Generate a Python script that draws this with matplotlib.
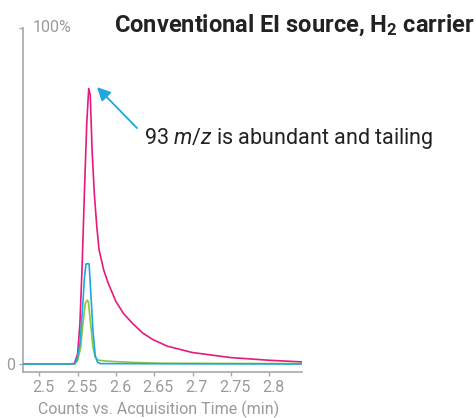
import matplotlib
matplotlib.use("Agg")
import matplotlib.pyplot as plt
import matplotlib.transforms as mtransforms
import numpy as np

plt.rcParams['font.family'] = ['Roboto', 'DejaVu Sans']
plt.rcParams['mathtext.fontset'] = 'custom'
plt.rcParams['mathtext.rm'] = 'Roboto'
plt.rcParams['mathtext.it'] = 'Roboto:italic'
plt.rcParams['mathtext.bf'] = 'Roboto:bold'

# ---- data (fraction of 100%) ----
t_pink = [2.478, 2.540, 2.546, 2.550, 2.553, 2.556, 2.559, 2.562, 2.5645, 2.5665,
          2.569, 2.572, 2.575, 2.578, 2.584, 2.590, 2.600, 2.610, 2.622,
          2.635, 2.648, 2.667, 2.700, 2.750, 2.800, 2.844]
v_pink = [0.0, 0.0, 0.002, 0.03, 0.12, 0.30, 0.52, 0.72, 0.82, 0.80,
          0.63, 0.50, 0.41, 0.34, 0.28, 0.24, 0.186, 0.15, 0.12,
          0.092, 0.073, 0.053, 0.034, 0.019, 0.011, 0.006]

t_green = [2.478, 2.546, 2.550, 2.554, 2.557, 2.560, 2.5625, 2.564, 2.567, 2.570,
           2.573, 2.576, 2.585, 2.600, 2.630, 2.660, 2.844]
v_green = [0.0, 0.0, 0.01, 0.05, 0.12, 0.18, 0.19, 0.185, 0.12, 0.05,
           0.02, 0.012, 0.009, 0.007, 0.004, 0.002, 0.001]

t_blue = [2.478, 2.546, 2.549, 2.553, 2.556, 2.559, 2.561, 2.565, 2.567, 2.570,
          2.573, 2.576, 2.580, 2.844]
v_blue = [0.0, 0.0, 0.01, 0.06, 0.15, 0.26, 0.298, 0.298, 0.22, 0.10,
          0.025, 0.005, 0.001, 0.0]

x_ticks = [2.5, 2.55, 2.6, 2.65, 2.7, 2.75, 2.8]
x_tick_labels = ["2.5", "2.55", "2.6", "2.65", "2.7", "2.75", "2.8"]

PINK = "#e6197f"
BLUE = "#1ea7e1"
GREEN = "#8dc63f"
GRAY = "#9a9a9a"
AXC = "#a8a8a8"

fig = plt.figure(figsize=(4.77, 4.18), dpi=100)
ax = fig.add_axes([23/477, 1-371.7/418, (302.3-23)/477, (371.7-28)/418])

ax.plot(t_pink, v_pink, color=PINK, lw=1.2, zorder=3)
ax.plot(t_green, v_green, color=GREEN, lw=1.2, zorder=4)
ax.plot(t_blue, v_blue, color=BLUE, lw=1.2, zorder=5)

ax.set_xlim(2.4787, 2.8433)
ax.set_ylim(-0.023, 1.0)

for s in ['top', 'right']:
    ax.spines[s].set_visible(False)
for s in ['left', 'bottom']:
    ax.spines[s].set_color(AXC)
    ax.spines[s].set_linewidth(1.2)

ax.set_xticks(x_ticks)
ax.set_xticklabels(x_tick_labels)
ax.set_yticks([0, 1.0])
ax.set_yticklabels(["0", ""])
ax.tick_params(axis='both', colors=AXC, labelcolor=GRAY, length=3, width=1.0,
               labelsize=11.5, pad=3)
offset = mtransforms.ScaledTranslation(4/100, 0, fig.dpi_scale_trans)
for lab in ax.get_xticklabels():
    lab.set_transform(lab.get_transform() + offset)

ax.text(10/279.3, 1.0, "100%", transform=ax.transAxes, ha='left', va='center',
        fontsize=11.5, color=GRAY)

ax.set_xlabel("Counts vs. Acquisition Time (min)", fontsize=11.5, color=GRAY)
ax.xaxis.set_label_coords(0.486, -0.084)

fig.text(474/477, 1-31.7/418, r"Conventional EI source, H$_\mathbf{2}$ carrier",
         ha='right', va='baseline', fontsize=17, fontweight='bold', color="#222222")

ax.annotate("", xy=(2.5754, 0.824), xytext=(2.6276, 0.702),
            arrowprops=dict(arrowstyle='-|>', color=BLUE, lw=1.3,
                            mutation_scale=20, shrinkA=0, shrinkB=0), zorder=6)
ax.text(2.6367, 0.67, r"93 $m/z$ is abundant and tailing", ha='left', va='center',
        fontsize=15.5, color="#222222")

fig.savefig("out.png", dpi=100)
